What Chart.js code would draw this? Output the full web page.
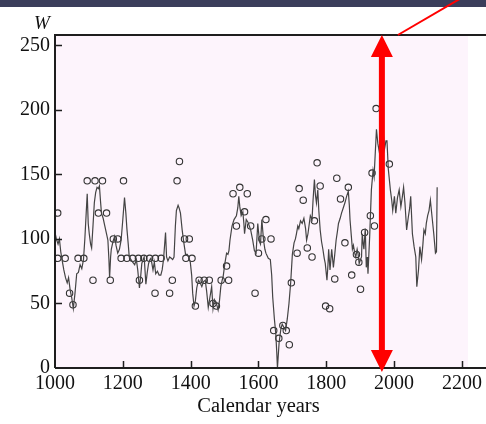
<!DOCTYPE html>
<html>
<head>
<meta charset="utf-8">
<script src="https://cdn.jsdelivr.net/npm/chart.js@4.4.1/dist/chart.umd.min.js"></script>
<style>
  html, body { margin: 0; padding: 0; background: #fff; }
  canvas { display: block; }
</style>
</head>
<body>
<canvas id="c" width="486" height="424"></canvas>
<script>
// reconstructed W series (thin line)
const lineYears = [1000,1004,1009,1013,1017,1022,1026,1031,1036,1040,1045,1049,1054,1059,1064,1069,1074,1079,1084,1088,
  1092,1095,1098,1101,1105,1108,1112,1116,1120,1124,1128,1131,1134,1137,1142,1147,1152,1156,1159,1161,
  1164,1166,1171,1176,1180,1185,1190,1195,1200,1205,1209,1212,1216,1219,1224,1229,1235,1240,1244,1249,
  1253,1256,1260,1263,1268,1272,1276,1280,1283,1289,1293,1297,1302,1307,1312,1316,1320,1324,1326,1329,
  1333,1338,1343,1347,1351,1355,1358,1363,1366,1370,1375,1380,1385,1390,1394,1399,1403,1406,1410,1414,
  1418,1423,1428,1433,1438,1443,1447,1452,1457,1462,1466,1470,1476,1481,1485,1489,1493,1496,1501,1506,
  1510,1513,1516,1522,1528,1535,1539,1542,1545,1549,1554,1557,1559,1564,1569,1573,1577,1583,1588,1593,
  1598,1603,1606,1610,1615,1619,1622,1629,1635,1639,1642,1647,1651,1654,1656,1659,1661,1666,1670,1674,
  1680,1685,1690,1695,1700,1705,1709,1712,1716,1719,1724,1729,1734,1739,1742,1746,1749,1753,1758,1761,
  1765,1768,1771,1775,1778,1782,1786,1790,1794,1797,1802,1805,1807,1811,1816,1821,1825,1829,1833,1836,
  1841,1845,1850,1855,1860,1865,1868,1870,1874,1877,1880,1884,1887,1891,1894,1897,1901,1904,1906,1909,
  1911,1915,1918,1921,1923,1928,1933,1938,1941,1944,1948,1952,1956,1960,1964,1968,1972,1976,1979,1983,
  1986,1989,1993,1996,2001,2005,2010,2015,2020,2024,2028,2032,2037,2042,2046,2049,2054,2059,2064,2067,
  2072,2076,2081,2085,2088,2092,2095,2099,2103,2107,2112,2117,2122,2125,2127];
const lineW = [105,100,96,100,90,82,76,70,66,70,60,55,46,58,73,74,80,77,84,100,
  120,135,112,104,96,93,110,128,136,140,139,141,130,120,116,110,104,99,84,70,
  86,92,98,102,95,89,92,99,115,132,120,108,96,86,84,82,80,84,76,62,
  72,81,84,86,65,74,81,84,85,76,82,73,75,72,72,76,84,98,105,86,
  83,86,85,84,86,110,122,126,124,120,107,97,88,88,86,82,72,58,48,52,
  62,68,66,63,67,68,60,47,55,63,46,53,50,45,52,63,68,71,81,89,
  88,91,99,110,115,118,124,133,125,118,121,112,104,115,113,110,107,99,91,89,
  112,98,96,115,99,92,89,85,84,72,55,38,27,12,0,12,20,30,34,32,
  29,38,50,66,88,97,100,104,110,108,114,112,116,108,99,104,110,118,115,130,
  146,134,128,138,122,107,98,92,85,81,68,80,92,76,92,78,88,99,106,112,
  116,120,124,128,133,137,126,115,102,92,95,89,86,92,88,81,84,86,104,96,
  92,108,78,86,73,102,138,153,148,164,185,174,168,180,178,182,170,176,176,154,
  146,138,130,122,133,120,132,138,125,132,140,128,107,117,124,133,104,94,86,63,
  76,94,84,96,107,104,112,118,122,130,117,104,89,90,140];

// observed values (open circles)
const obsYears = [1008,1008,1030,1043,1053,1068,1085,1095,1112,1118,1128,1140,1152,1163,1172,1185,1195,1202,1212,1229,
  1246,1249,1262,1279,1295,1296,1313,1338,1346,1360,1367,1382,1386,1396,1404,1414,1425,1440,1455,1466,
  1476,1490,1506,1512,1525,1535,1545,1559,1567,1577,1590,1600,1610,1622,1637,1645,1660,1672,1682,1691,
  1697,1714,1720,1732,1744,1758,1765,1773,1782,1798,1810,1825,1831,1842,1855,1865,1875,1889,1896,1901,
  1913,1930,1935,1942,1947,1986];
const obsW = [120,85,85,58,49,85,85,145,68,145,120,145,120,68,100,100,85,145,85,85,
  85,68,85,85,58,85,85,58,68,145,160,100,85,100,85,48,68,68,68,50,
  48,68,79,68,135,110,140,121,135,110,58,89,100,115,100,29,23,33,29,18,
  66,89,139,130,93,86,114,159,141,48,46,69,147,131,97,140,72,88,82,61,
  105,118,151,110,201,158];

const xTicks = [1000, 1200, 1400, 1600, 1800, 2000, 2200];
const yTicks = [0, 50, 100, 150, 200, 250];
const arrowYear = 1964;

const serif = '"Liberation Serif", "Times New Roman", serif';

const decor = {
  id: 'decor',
  beforeDraw(chart) {
    const { ctx, chartArea: a, scales: { x } } = chart;
    ctx.save();
    ctx.fillStyle = '#fff';
    ctx.fillRect(0, 0, chart.width, chart.height);
    ctx.fillStyle = '#fdf4fc';
    ctx.fillRect(a.left, a.top, x.getPixelForValue(2218) - a.left, a.bottom - a.top);
    ctx.restore();
  },
  afterDatasetsDraw(chart) {
    const { ctx, chartArea: a, scales: { x, y } } = chart;
    ctx.save();
    ctx.strokeStyle = '#1e1e1e';
    ctx.lineWidth = 2;
    ctx.beginPath();
    ctx.moveTo(a.left, a.bottom);
    ctx.lineTo(a.left, a.top);
    ctx.lineTo(chart.width, a.top);
    ctx.moveTo(a.left, a.bottom);
    ctx.lineTo(chart.width, a.bottom);
    ctx.stroke();
    // inward ticks
    ctx.lineWidth = 1.5;
    ctx.beginPath();
    yTicks.slice(1).forEach(v => {
      const py = Math.round(y.getPixelForValue(v)) + 0.5;
      ctx.moveTo(a.left, py);
      ctx.lineTo(a.left + 7, py);
    });
    xTicks.slice(1).forEach(v => {
      const px = Math.round(x.getPixelForValue(v)) + 0.5;
      ctx.moveTo(px, a.bottom);
      ctx.lineTo(px, a.bottom - 7);
    });
    ctx.stroke();

    // labels
    ctx.fillStyle = '#111';
    ctx.textAlign = 'center';
    ctx.textBaseline = 'middle';
    ctx.font = 'italic 19px ' + serif;
    ctx.fillText('W', 42, 24);
    ctx.font = '20.5px ' + serif;
    ctx.fillText('Calendar years', x.getPixelForValue(1600), 407);
    ctx.restore();
  },
  afterDraw(chart) {
    const { ctx, chartArea: a, scales: { x } } = chart;
    const xa = x.getPixelForValue(arrowYear);
    const top = a.top, bot = a.bottom + 4;
    ctx.save();
    // dark slide band
    ctx.fillStyle = '#3b3e5b';
    ctx.fillRect(0, 0, chart.width, 7);
    // red arrow
    ctx.fillStyle = '#ff0000';
    ctx.fillRect(xa - 3, top + 20, 6, bot - top - 40);
    ctx.beginPath();
    ctx.moveTo(xa, top);
    ctx.lineTo(xa + 11, top + 22);
    ctx.lineTo(xa - 11, top + 22);
    ctx.closePath();
    ctx.moveTo(xa, bot);
    ctx.lineTo(xa + 11, bot - 22);
    ctx.lineTo(xa - 11, bot - 22);
    ctx.closePath();
    ctx.fill();
    // pointer line
    ctx.strokeStyle = '#ff0000';
    ctx.lineWidth = 2;
    ctx.beginPath();
    ctx.moveTo(xa + 16, top);
    ctx.lineTo(xa + 16 + 72, top - 42);
    ctx.stroke();
    ctx.restore();
  }
};

new Chart(document.getElementById('c'), {
  type: 'scatter',
  data: {
    datasets: [
      {
        label: 'W',
        data: lineYears.map((yr, i) => ({ x: yr, y: lineW[i] })),
        showLine: true,
        borderColor: '#444',
        borderWidth: 1.2,
        pointRadius: 0,
        pointHoverRadius: 0,
        tension: 0
      },
      {
        label: 'observed',
        data: obsYears.map((yr, i) => ({ x: yr, y: obsW[i] })),
        showLine: false,
        pointStyle: 'circle',
        pointRadius: 3.2,
        borderColor: '#333',
        backgroundColor: 'rgba(0,0,0,0)',
        borderWidth: 1.1
      }
    ]
  },
  options: {
    responsive: false,
    animation: false,
    layout: { padding: { top: 35, left: 0, right: 0, bottom: 0 } },
    plugins: { legend: { display: false }, tooltip: { enabled: false } },
    scales: {
      x: {
        type: 'linear',
        min: 1000,
        max: 2256,
        afterBuildTicks: s => { s.ticks = xTicks.map(v => ({ value: v })); },
        afterFit: s => { s.height = 56; s.paddingLeft = 0; s.paddingRight = 0; },
        grid: { display: false, drawTicks: false },
        border: { display: false },
        ticks: {
          autoSkip: false,
          maxRotation: 0,
          padding: 4,
          color: '#111',
          font: { family: serif, size: 20 },
          callback: v => String(v)
        }
      },
      y: {
        min: 0,
        max: 258,
        afterBuildTicks: s => { s.ticks = yTicks.map(v => ({ value: v })); },
        afterFit: s => { s.width = 55; },
        grid: { display: false, drawTicks: false },
        border: { display: false },
        ticks: {
          padding: 5,
          color: '#111',
          font: { family: serif, size: 20 },
          callback: v => String(v)
        }
      }
    }
  },
  plugins: [decor]
});
</script>
</body>
</html>
